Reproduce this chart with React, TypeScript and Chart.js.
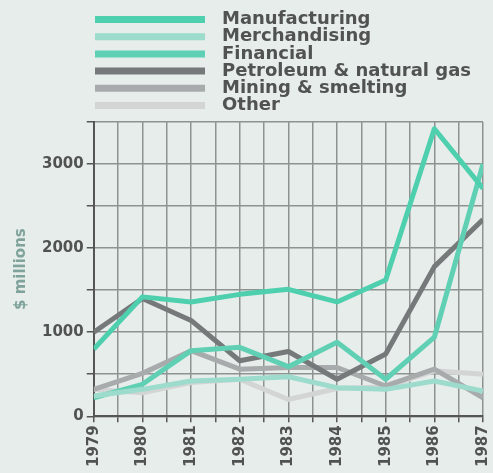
import React, { useEffect, useRef } from "react";
import { Chart, registerables } from "chart.js";

Chart.register(...registerables);

const years = [1979, 1980, 1981, 1982, 1983, 1984, 1985, 1986, 1987];
const seriesNames = [
  "Manufacturing",
  "Merchandising",
  "Financial",
  "Petroleum & natural gas",
  "Mining & smelting",
  "Other",
];
const manufacturing = [800, 1420, 1360, 1450, 1510, 1360, 1620, 3420, 2710];
const merchandising = [240, 320, 420, 440, 470, 340, 320, 420, 300];
const financial = [220, 380, 780, 820, 590, 880, 440, 940, 3000];
const petroleum = [1000, 1400, 1140, 660, 770, 440, 740, 1780, 2340];
const mining = [320, 510, 780, 560, 580, 580, 360, 560, 220];
const other = [320, 280, 400, 440, 200, 330, 350, 540, 500];
const seriesColors = ["#4ecfae", "#9ddbcc", "#5fd0b3", "#76797a", "#a8abab", "#d2d5d4"];
const yLabels = [0, 1000, 2000, 3000];

const allSeries = [manufacturing, merchandising, financial, petroleum, mining, other];

const legendPlugin = {
  id: "stackedLegend",
  afterDraw(chart: any) {
    const ctx = chart.ctx;
    ctx.save();
    chart.data.datasets.forEach((ds: any, i: number) => {
      const y = 19.5 + i * 17.2;
      ctx.strokeStyle = ds.borderColor;
      ctx.lineWidth = 7;
      ctx.lineCap = "butt";
      ctx.beginPath();
      ctx.moveTo(95, y);
      ctx.lineTo(205, y);
      ctx.stroke();
      ctx.fillStyle = "#505352";
      ctx.font = "bold 18px 'DejaVu Sans'";
      ctx.textBaseline = "middle";
      ctx.textAlign = "left";
      ctx.fillText(ds.label, 222, y);
    });
    ctx.restore();
  },
};

export default function App() {
  const ref = useRef<HTMLCanvasElement | null>(null);
  useEffect(() => {
    if (!ref.current) return;
    const chart = new Chart(ref.current, {
      type: "line",
      data: {
        datasets: allSeries.map((s, i) => ({
          label: seriesNames[i],
          data: s.map((v, j) => ({ x: years[j], y: v })),
          borderColor: seriesColors[i],
          backgroundColor: seriesColors[i],
          borderWidth: 5,
          pointRadius: 0,
          tension: 0,
          borderJoinStyle: "round" as const,
        })),
      },
      options: {
        animation: false,
        responsive: true,
        maintainAspectRatio: false,
        layout: { padding: { top: 122, left: 8, right: 10, bottom: 3 } },
        plugins: { legend: { display: false }, tooltip: { enabled: false } },
        scales: {
          x: {
            type: "linear",
            min: years[0],
            max: years[years.length - 1],
            afterFit: (s: any) => {
              s.paddingRight = 0;
            },
            border: { color: "#555", width: 2 },
            grid: { color: "#8e9392", lineWidth: 1.5, tickLength: 6, tickColor: "#555" },
            ticks: {
              stepSize: 0.5,
              maxTicksLimit: 100,
              autoSkip: false,
              maxRotation: 90,
              minRotation: 90,
              color: "#505352",
              font: { family: "DejaVu Sans", weight: "bold", size: 15 },
              callback: (v: any) => (Number.isInteger(Number(v)) ? String(v) : ""),
            },
          },
          y: {
            min: 0,
            max: 3500,
            border: { color: "#555", width: 2 },
            grid: { color: "#8e9392", lineWidth: 1.5, tickLength: 7, tickColor: "#555" },
            ticks: {
              stepSize: 500,
              maxTicksLimit: 100,
              color: "#505352",
              font: { family: "DejaVu Sans", weight: "bold", size: 15 },
              callback: (v: any) => (yLabels.includes(Number(v)) ? String(v) : ""),
            },
            title: {
              display: true,
              text: "$ millions",
              color: "#7fa39a",
              padding: { top: 4, bottom: 9 },
              font: { family: "DejaVu Sans", weight: "bold", size: 15 },
            },
          },
        },
      },
      plugins: [legendPlugin],
    });
    return () => chart.destroy();
  }, []);
  return (
    <div
      style={{
        position: "absolute",
        left: 0,
        top: 0,
        width: 493,
        height: 473,
        background: "#e7edeb",
      }}
    >
      <canvas ref={ref} />
    </div>
  );
}
